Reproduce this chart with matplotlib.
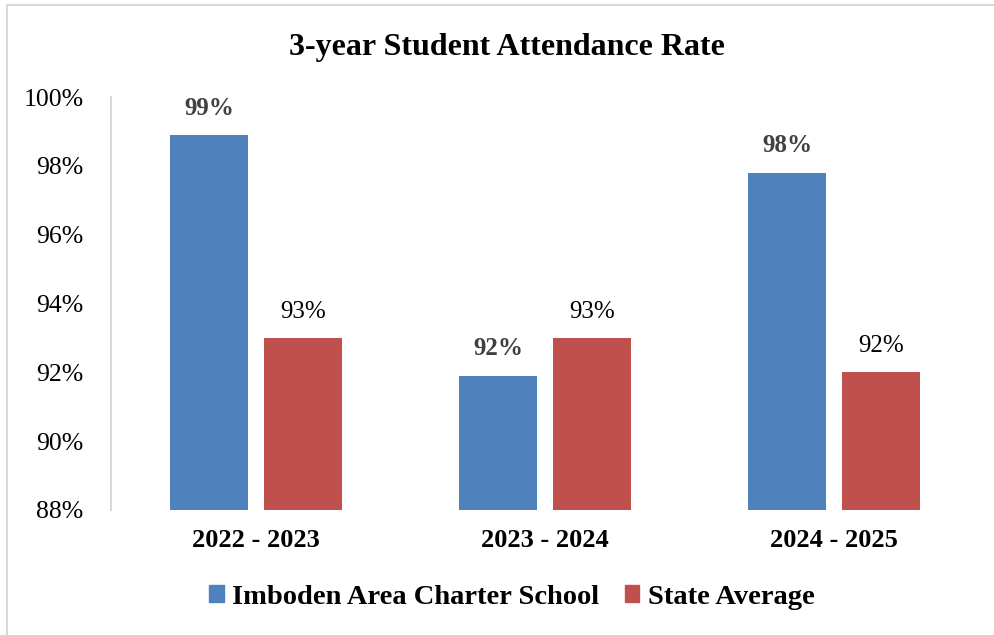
import matplotlib
matplotlib.use("Agg")
import matplotlib.pyplot as plt
from matplotlib.lines import Line2D
from matplotlib.patches import Patch
import numpy as np

categories = ["2022 - 2023", "2023 - 2024", "2024 - 2025"]
school = [98.9, 91.9, 97.8]
state = [93.0, 93.0, 92.0]
school_labels = ["99%", "92%", "98%"]
state_labels = ["93%", "93%", "92%"]
yticks = [88, 90, 92, 94, 96, 98, 100]
series_names = ["Imboden Area Charter School", "State Average"]

BLUE = "#4F81BD"
RED = "#C0504D"
FONT = "Liberation Serif"

fig = plt.figure(figsize=(9.95, 6.35), dpi=100)
ax = fig.add_axes([111.5 / 995, 1 - 510 / 635, 867 / 995, 413 / 635])

x = np.arange(len(categories))
w = 0.27
off = (w + 0.055) / 2
ax.bar(x - off, np.array(school) - 88, w, bottom=88, color=BLUE)
ax.bar(x + off, np.array(state) - 88, w, bottom=88, color=RED)

for xi, v, lab in zip(x, school, school_labels):
    ax.annotate(lab, (xi - off, v), xytext=(0, 11), textcoords="offset points",
                ha="center", va="bottom", fontsize=18, fontweight="bold",
                color="#404040", family=FONT)
for xi, v, lab in zip(x, state, state_labels):
    ax.annotate(lab, (xi + off, v), xytext=(0, 11), textcoords="offset points",
                ha="center", va="bottom", fontsize=18, color="#000000", family=FONT)

ax.set_xlim(-0.5, len(categories) - 0.5)
ax.set_ylim(88, 100)
ax.set_yticks(yticks)
ax.set_yticklabels([f"{t}%" for t in yticks], fontsize=18.5, family=FONT)
ax.set_xticks(x)
ax.set_xticklabels(categories, fontsize=19, fontweight="bold", family=FONT)
ax.tick_params(axis="both", length=0)
ax.tick_params(axis="y", pad=20)
ax.tick_params(axis="x", pad=14)
for s in ["top", "right", "bottom"]:
    ax.spines[s].set_visible(False)
ax.spines["left"].set_color("#d9d9d9")
ax.spines["left"].set_linewidth(1.5)

fig.text(507 / 995, 1 - 47 / 635, "3-year Student Attendance Rate", ha="center",
         va="center", fontsize=23, fontweight="bold", family=FONT)

handles = [Patch(color=BLUE), Patch(color=RED)]
leg = fig.legend(handles, series_names, loc="center", bbox_to_anchor=(512 / 995, 1 - 597 / 635),
                 ncol=2, frameon=False, prop={"family": FONT, "size": 20.5, "weight": "bold"},
                 handlelength=0.5, handleheight=0.5, handletextpad=0.3, columnspacing=0.9)

# outer border
fig.add_artist(Line2D([7 / 995, 7 / 995], [0, 1 - 5 / 635], transform=fig.transFigure,
                      color="#d9d9d9", lw=1.5))
fig.add_artist(Line2D([7 / 995, 1], [1 - 5 / 635, 1 - 5 / 635], transform=fig.transFigure,
                      color="#d9d9d9", lw=1.5))

fig.savefig("out.png", dpi=100, facecolor="white")
